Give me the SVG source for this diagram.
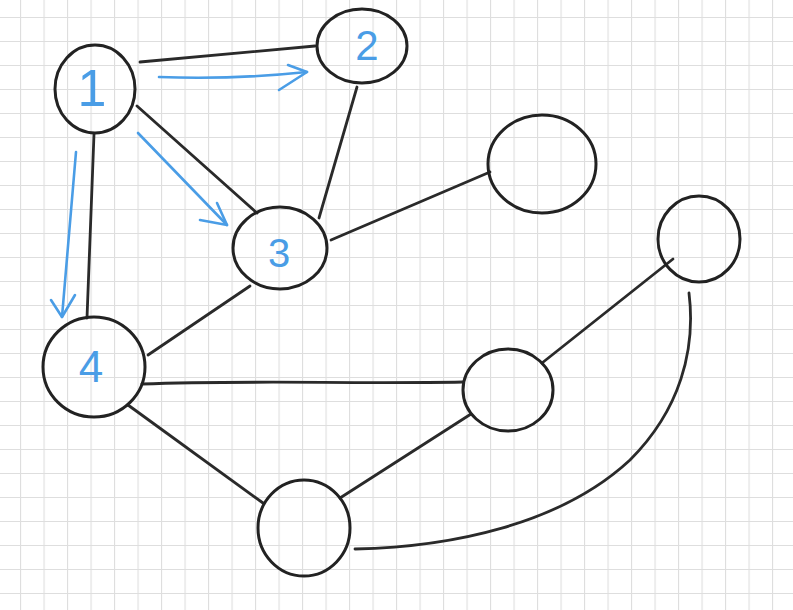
<svg xmlns="http://www.w3.org/2000/svg" width="793" height="610" viewBox="0 0 793 610">
  <defs>
    <pattern id="grid" x="20" y="17" width="23.5" height="24" patternUnits="userSpaceOnUse">
      <path d="M0,0 V24 M0,0 H23.5" fill="none" stroke="#dedede" stroke-width="2.2"/>
    </pattern>
  </defs>
  <style>
    .node { fill: none; stroke: #222; stroke-width: 3; }
    .edge { fill: none; stroke: #2a2a2a; stroke-width: 2.8; stroke-linecap: round; }
    .arrow { fill: none; stroke: #4a9de6; stroke-width: 2.6; stroke-linecap: round; stroke-linejoin: round; }
    .label { fill: #4a9de6; font-family: "Liberation Sans", "DejaVu Sans", sans-serif; text-anchor: middle; }
  </style>
  <rect width="793" height="610" fill="#ffffff"/>
  <rect width="793" height="610" fill="url(#grid)"/>

  <g id="connectors">
    <path class="edge" d="M140,62 L315,46"/>
    <path class="edge" d="M137,106 L257,213"/>
    <path class="edge" d="M94,134 L87,318"/>
    <path class="edge" d="M357,87 L319,218"/>
    <path class="edge" d="M331,240 L490,172"/>
    <path class="edge" d="M250,286 L148,355"/>
    <path class="edge" d="M142,384 C250,380 350,384 463,382"/>
    <path class="edge" d="M128,405 L263,503"/>
    <path class="edge" d="M340,498 L471,414"/>
    <path class="edge" d="M542,363 L673,259"/>
    <path class="edge" d="M355,549 C450,547 560,525 630,460 C680,410 696,350 689,293"/>
    <path class="arrow" d="M159,77 Q230,80 307,72"/>
    <path class="arrow" d="M288,65 L307,72 L279,90"/>
    <path class="arrow" d="M138,133 L227,225"/>
    <path class="arrow" d="M217,203 L227,225 L200,220"/>
    <path class="arrow" d="M76,152 L62,317"/>
    <path class="arrow" d="M51,300 L62,317 L75,295"/>
  </g>

  <g id="node1">
    <ellipse class="node" cx="95" cy="89" rx="40" ry="44"/>
    <text class="label" x="92" y="106" font-size="52">1</text>
  </g>
  <g id="node2">
    <ellipse class="node" cx="362" cy="46" rx="45" ry="37"/>
    <text class="label" x="367" y="60" font-size="42">2</text>
  </g>
  <g id="node3">
    <ellipse class="node" cx="280" cy="248" rx="47" ry="41"/>
    <text class="label" x="279" y="267" font-size="40">3</text>
  </g>
  <g id="node4">
    <ellipse class="node" cx="94" cy="367" rx="51" ry="50"/>
    <text class="label" x="91" y="382" font-size="44">4</text>
  </g>
  <g id="nodeA">
    <ellipse class="node" cx="542" cy="164" rx="54" ry="49"/>
  </g>
  <g id="nodeB">
    <ellipse class="node" cx="699" cy="239" rx="41" ry="43"/>
  </g>
  <g id="nodeC">
    <ellipse class="node" cx="508" cy="390" rx="45" ry="41"/>
  </g>
  <g id="nodeD">
    <ellipse class="node" cx="304" cy="528" rx="46" ry="48"/>
  </g>
</svg>
